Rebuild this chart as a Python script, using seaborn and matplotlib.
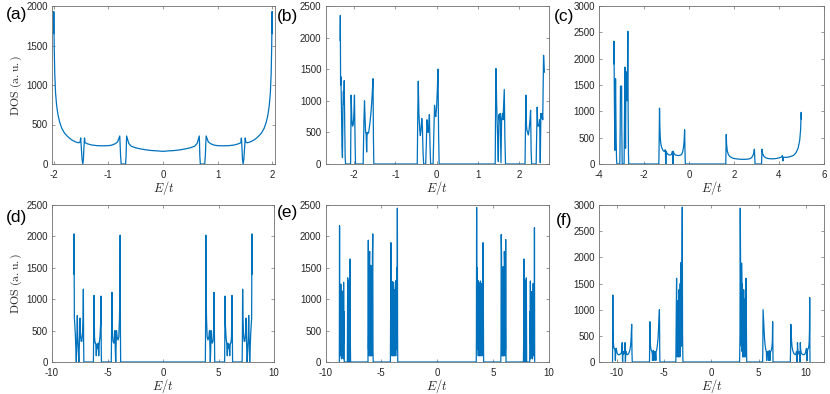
import matplotlib
matplotlib.use("Agg")
import matplotlib.pyplot as plt
import seaborn as sns

# ---------------- data ----------------
e_a = [-2.000, -1.997, -1.990, -1.980, -1.965, -1.945, -1.920, -1.890, -1.850, -1.800,
       -1.740, -1.670, -1.600, -1.540, -1.515, -1.505, -1.495, -1.480, -1.467, -1.455,
       -1.445, -1.435, -1.425, -1.380, -1.300, -1.200, -1.100, -1.000, -0.930, -0.870,
       -0.830, -0.790, -0.775, -0.764, -0.684, -0.675, -0.665, -0.625, -0.580, -0.500,
       -0.400, -0.300, -0.200, -0.100, 0.000,
       0.100, 0.200, 0.300, 0.400, 0.500, 0.580, 0.625, 0.665, 0.675, 0.684,
       0.764, 0.775, 0.790, 0.830, 0.870, 0.930, 1.000, 1.100, 1.200, 1.300,
       1.380, 1.425, 1.435, 1.445, 1.455, 1.467, 1.480, 1.495, 1.505, 1.515,
       1.540, 1.600, 1.670, 1.740, 1.800, 1.850, 1.890, 1.920, 1.945, 1.965,
       1.980, 1.990, 1.997, 2.000]
dos_a = [1650, 1930, 1500, 1150, 900, 740, 620, 530, 450, 390,
         345, 305, 280, 268, 280, 330, 220, 60, 0, 60,
         220, 330, 270, 255, 240, 232, 230, 232, 240, 258,
         280, 355, 100, 0, 0, 100, 355, 260, 225, 205,
         190, 178, 170, 166, 160,
         166, 170, 178, 190, 205, 225, 260, 355, 100, 0,
         0, 100, 355, 280, 258, 240, 232, 230, 232, 240,
         255, 270, 330, 220, 60, 0, 60, 220, 330, 280,
         268, 280, 305, 345, 390, 450, 530, 620, 740, 900,
         1150, 1500, 1930, 1650]

e_b = [-2.345, -2.340, -2.333, -2.325, -2.312, -2.300, -2.288, -2.276, -2.265, -2.255,
       -2.245, -2.232, -2.222, -2.212, -2.090, -2.077, -2.060, -2.045, -2.025, -2.010,
       -1.996, -1.980, -1.970, -1.785, -1.765, -1.752, -1.740, -1.725, -1.712, -1.700,
       -1.688, -1.670, -1.650, -1.620, -1.590, -1.565, -1.545, -1.535, -1.525,
       -0.470, -0.455, -0.445, -0.430, -0.410, -0.395, -0.380, -0.360, -0.345, -0.330,
       -0.315, -0.265, -0.250, -0.235, -0.220, -0.205, -0.190, -0.175, -0.160, -0.145,
       -0.085, -0.070, -0.050, -0.035, -0.020, 0.000, 0.020, 0.035, 0.048, 0.062,
       1.425, 1.435, 1.443, 1.460, 1.480, 1.500, 1.515, 1.530, 1.545, 1.565,
       1.580, 1.600, 1.615, 1.645, 1.660, 1.675,
       2.150, 2.170, 2.185, 2.200, 2.215, 2.230, 2.250, 2.270, 2.285, 2.298, 2.310,
       2.420, 2.445, 2.460, 2.475, 2.490, 2.505, 2.520, 2.535, 2.550, 2.565,
       2.580, 2.600, 2.620]
dos_b = [1950, 2350, 1250, 1380, 900, 300, 100, 900, 1150, 950,
         1320, 600, 100, 0, 0, 1090, 700, 600, 620, 800,
         1090, 300, 0, 0, 700, 1000, 750, 500, 480, 190,
         500, 480, 500, 650, 850, 1100, 1350, 400, 0,
         0, 900, 1310, 800, 550, 450, 530, 720, 600, 200,
         0, 0, 300, 700, 600, 500, 600, 780, 300, 0,
         0, 400, 930, 800, 750, 900, 1200, 1500, 500, 0,
         0, 1000, 1510, 950, 500, 40, 780, 700, 800, 20,
         700, 800, 700, 1180, 400, 0,
         0, 1090, 600, 520, 500, 460, 550, 700, 850, 200, 0,
         0, 900, 600, 620, 600, 700, 20, 800, 720, 800,
         700, 1720, 1450]

e_c = [-3.345, -3.335, -3.325, -3.315, -3.305, -3.295, -3.280, -3.265, -3.250, -3.235,
       -3.220, -3.205, -3.075, -3.060, -3.045, -3.020, -2.995, -2.985, -2.970, -2.885,
       -2.870, -2.850, -2.835, -2.820, -2.805, -2.790, -2.775, -2.760, -2.745, -2.730,
       -2.718, -2.705, -2.690, -2.680,
       -1.340, -1.325, -1.310, -1.295, -1.275, -1.250, -1.220, -1.180, -1.140, -1.100,
       -1.065, -1.050, -1.040, -1.030, -1.020, -1.010, -0.990, -0.950, -0.900, -0.850,
       -0.800, -0.760, -0.735, -0.725, -0.715, -0.705, -0.695, -0.670, -0.620, -0.550,
       -0.480, -0.400, -0.330, -0.280, -0.240, -0.215, -0.195, -0.180, -0.165,
       1.635, 1.645, 1.655, 1.670, 1.700, 1.750, 1.820, 1.900, 2.000, 2.150,
       2.300, 2.450, 2.600, 2.700, 2.780, 2.840, 2.880, 2.905, 2.920, 2.935,
       3.225, 3.235, 3.245, 3.270, 3.320, 3.400, 3.500, 3.650, 3.800, 3.950,
       4.100, 4.150, 4.175, 4.200, 4.350, 4.500, 4.650, 4.750, 4.850, 4.920,
       4.960, 4.985, 4.995]
dos_c = [1900, 2330, 1700, 1200, 700, 260, 800, 1620, 1000, 400,
         100, 0, 0, 600, 1480, 1460, 1480, 600, 0, 0,
         700, 1840, 900, 300, 1300, 1750, 1500, 1700, 1200, 1900,
         2520, 1000, 200, 0,
         0, 500, 1060, 700, 480, 380, 320, 280, 250, 240,
         260, 270, 100, 0, 100, 240, 210, 190, 175, 170,
         175, 200, 240, 100, 0, 100, 240, 200, 175, 165,
         160, 165, 180, 230, 330, 450, 650, 300, 0,
         0, 300, 560, 380, 250, 180, 140, 120, 105, 95,
         90, 88, 92, 100, 120, 160, 210, 280, 150, 0,
         0, 150, 280, 200, 150, 120, 105, 98, 100, 110,
         130, 160, 60, 130, 125, 140, 165, 210, 300, 450,
         650, 980, 850]

e_d = [-8.040, -8.015, -7.985, -7.950, -7.900, -7.850, -7.810, -7.770, -7.720, -7.680,
       -7.630, -7.580, -7.530, -7.480, -7.430, -7.370, -7.310, -7.250, -7.200, -7.175,
       -7.150, -7.130, -6.270, -6.245, -6.215, -6.170, -6.120, -6.060, -6.010, -5.960,
       -5.900, -5.840, -5.790, -5.740, -5.680, -5.620, -5.590, -5.565, -5.550, -4.660,
       -4.630, -4.600, -4.560, -4.500, -4.430, -4.380, -4.330, -4.300, -4.260, -4.220,
       -4.190, -4.130, -4.050, -3.980, -3.920, -3.880, -3.860, -3.835, -3.815,
       3.815, 3.835, 3.860, 3.880, 3.920, 3.980, 4.050, 4.130, 4.190, 4.220,
       4.260, 4.300, 4.330, 4.380, 4.430, 4.500, 4.560, 4.600, 4.630, 4.660,
       5.550, 5.565, 5.590, 5.620, 5.680, 5.740, 5.790, 5.840, 5.900, 5.960,
       6.010, 6.060, 6.120, 6.170, 6.215, 6.245, 6.270, 7.130, 7.150, 7.175,
       7.200, 7.250, 7.310, 7.370, 7.430, 7.480, 7.530, 7.580, 7.630, 7.680,
       7.720, 7.770, 7.810, 7.850, 7.900, 7.950, 7.985, 8.015, 8.040]
dos_d = [1400, 2040, 700, 600, 450, 200, 0, 300, 740, 400,
         200, 0, 300, 700, 450, 330, 330, 450, 700, 1160,
         300, 0, 0, 500, 1060, 400, 300, 300, 100, 280,
         220, 300, 100, 300, 400, 600, 1050, 300, 0, 0,
         500, 1110, 500, 330, 300, 350, 500, 200, 0, 300,
         500, 400, 350, 400, 700, 1200, 2020, 500, 0,
         0, 500, 2020, 1200, 700, 400, 350, 400, 500, 300,
         0, 200, 500, 350, 300, 330, 500, 1110, 500, 0,
         0, 300, 1050, 600, 400, 300, 100, 300, 220, 280,
         100, 300, 300, 400, 1060, 500, 0, 0, 300, 1160,
         700, 450, 330, 330, 450, 700, 300, 0, 200, 400,
         740, 300, 0, 200, 450, 600, 700, 2040, 1400]

e_e = [-8.760, -8.740, -8.725, -8.705, -8.690, -8.670, -8.650, -8.625, -8.605, -8.585,
       -8.565, -8.540, -8.520, -8.500, -8.480, -8.460, -8.440, -8.415, -8.395, -8.375,
       -8.355, -8.335, -8.315,
       -8.040, -8.010, -7.990, -7.970, -7.950, -7.930, -7.910, -7.880, -7.860, -7.835,
       -7.815, -7.790, -7.770, -7.750,
       -6.190, -6.160, -6.140, -6.110, -6.090, -6.060, -6.040, -6.020, -5.990, -5.970,
       -5.940, -5.920, -5.890, -5.870, -5.840, -5.820, -5.790, -5.760, -5.740, -5.720,
       -4.180, -4.130, -4.110, -4.080, -4.060, -4.020, -4.000, -3.960, -3.940, -3.900,
       -3.880, -3.840, -3.820, -3.780, -3.760, -3.720, -3.700, -3.670, -3.640, -3.610,
       -3.580, -3.555, -3.535, -3.520,
       3.520, 3.535, 3.555, 3.580, 3.610, 3.640, 3.670, 3.700, 3.720, 3.760,
       3.780, 3.820, 3.840, 3.880, 3.900, 3.940, 3.960, 4.000, 4.020, 4.060,
       4.080, 4.110, 4.130, 4.180,
       5.720, 5.740, 5.760, 5.790, 5.820, 5.840, 5.870, 5.890, 5.920, 5.940,
       5.970, 5.990, 6.020, 6.040, 6.060, 6.090, 6.110, 6.140, 6.160, 6.190,
       7.750, 7.770, 7.790, 7.815, 7.835, 7.860, 7.880, 7.910, 7.930, 7.950,
       7.970, 7.990, 8.010, 8.040,
       8.315, 8.335, 8.355, 8.375, 8.395, 8.415, 8.440, 8.460, 8.480, 8.500,
       8.520, 8.540, 8.565, 8.585, 8.605, 8.625, 8.650, 8.670, 8.690, 8.705,
       8.725, 8.740, 8.760]
dos_e = [0, 2170, 300, 900, 100, 1000, 200, 1240, 100, 800,
         50, 900, 100, 1130, 80, 900, 100, 1000, 50, 1270,
         300, 800, 0,
         0, 1340, 100, 1300, 0, 900, 100, 1100, 0, 1300,
         200, 1640, 300, 0,
         0, 1940, 200, 1500, 100, 1600, 1760, 100, 1400, 100,
         1540, 100, 1300, 100, 1500, 100, 1700, 2040, 200, 0,
         0, 1900, 300, 1200, 100, 1280, 100, 1100, 100, 1270,
         100, 1100, 100, 1150, 100, 1200, 100, 1300, 200, 1500,
         300, 2450, 400, 0,
         0, 400, 2460, 300, 1500, 200, 1300, 100, 1170, 100,
         1260, 100, 1100, 100, 1290, 100, 1100, 100, 1250, 100,
         1200, 300, 1900, 0,
         0, 200, 2030, 1700, 100, 1500, 100, 1300, 100, 1520,
         100, 1400, 100, 1760, 1600, 100, 1500, 200, 1950, 0,
         0, 300, 1640, 200, 1300, 0, 1100, 100, 900, 0,
         1300, 100, 1340, 0,
         0, 800, 300, 1290, 50, 1000, 100, 900, 80, 1120,
         100, 900, 50, 800, 100, 1250, 200, 1000, 100, 900,
         300, 2140, 0]

e_f = [-10.420, -10.405, -10.390, -10.370, -10.340, -10.300, -10.250, -10.200, -10.150, -10.120,
       -10.090, -10.050, -10.000, -9.950, -9.880, -9.800, -9.700, -9.600, -9.500, -9.430,
       -9.400, -9.380, -9.360, -9.340, -9.320, -9.260, -9.200, -9.130, -9.100, -9.080,
       -9.060, -9.040, -9.000, -8.920, -8.850, -8.780, -8.700, -8.600, -8.520, -8.460,
       -8.400, -8.370, -8.340,
       -6.520, -6.500, -6.480, -6.450, -6.400, -6.330, -6.270, -6.220, -6.200, -6.180,
       -6.130, -6.080, -6.050, -6.020, -5.960, -5.900, -5.850, -5.820, -5.760, -5.700,
       -5.620, -5.560, -5.470, -5.440, -5.420,
       -3.740, -3.700, -3.660, -3.640, -3.610, -3.590, -3.550, -3.520, -3.500, -3.470,
       -3.450, -3.420, -3.400, -3.360, -3.330, -3.310, -3.280, -3.260, -3.220, -3.200,
       -3.180, -3.140, -3.120, -3.090, -3.060, -3.030, -2.990,
       2.990, 3.030, 3.060, 3.090, 3.120, 3.140, 3.180, 3.200, 3.220, 3.260,
       3.280, 3.310, 3.330, 3.360, 3.400, 3.420, 3.450, 3.470, 3.500, 3.520,
       3.550, 3.590, 3.610, 3.640, 3.660, 3.700, 3.740,
       5.420, 5.440, 5.470, 5.560, 5.620, 5.700, 5.760, 5.820, 5.850, 5.900,
       5.960, 6.020, 6.050, 6.080, 6.130, 6.180, 6.200, 6.220, 6.270, 6.330,
       6.400, 6.450, 6.480, 6.500, 6.520,
       8.340, 8.370, 8.400, 8.460, 8.520, 8.600, 8.700, 8.780, 8.850, 8.920,
       9.000, 9.040, 9.060, 9.080, 9.100, 9.130, 9.200, 9.260, 9.320, 9.340,
       9.360, 9.380, 9.400, 9.430, 9.500, 9.600, 9.700, 9.800, 9.880, 9.950,
       10.000, 10.050, 10.090, 10.120, 10.150, 10.200, 10.250, 10.300, 10.340, 10.370,
       10.390, 10.405, 10.420]
dos_f = [0, 600, 1280, 600, 400, 300, 260, 250, 200, 30,
         200, 260, 230, 180, 150, 140, 140, 150, 170, 250,
         370, 100, 0, 100, 200, 150, 160, 250, 370, 100,
         0, 100, 200, 150, 140, 150, 170, 220, 300, 450,
         720, 200, 0,
         0, 400, 770, 400, 280, 220, 200, 150, 30, 150,
         220, 180, 30, 180, 200, 170, 30, 200, 230, 300,
         450, 650, 1000, 200, 0,
         0, 800, 1600, 200, 900, 100, 1000, 1170, 100, 1100,
         100, 1380, 100, 1200, 1370, 100, 1500, 200, 1600, 1900,
         300, 1800, 400, 2000, 2960, 500, 0,
         0, 500, 2940, 2000, 400, 1800, 300, 1890, 1600, 200,
         1500, 100, 1370, 1200, 100, 1380, 100, 1100, 100, 1200,
         1000, 100, 900, 200, 1600, 800, 0,
         0, 200, 1000, 650, 450, 300, 230, 200, 30, 170,
         200, 180, 30, 180, 220, 150, 30, 150, 200, 220,
         280, 400, 770, 400, 0,
         0, 200, 720, 450, 300, 220, 170, 150, 140, 150,
         200, 100, 0, 100, 370, 250, 160, 150, 200, 100,
         0, 100, 370, 250, 170, 150, 140, 140, 150, 180,
         230, 260, 200, 30, 200, 250, 260, 300, 400, 600,
         1230, 600, 0]

panel_labels = ["(a)", "(b)", "(c)", "(d)", "(e)", "(f)"]
xlims = [(-2.03, 2.05), (-2.7, 2.72), (-4, 6), (-10, 10), (-10, 10), (-11.85, 11.9)]
xticks = [[-2, -1, 0, 1, 2], [-2, -1, 0, 1, 2], [-4, -2, 0, 2, 4, 6],
          [-10, -5, 0, 5, 10], [-10, -5, 0, 5, 10], [-10, -5, 0, 5, 10]]
ymax = [2000, 2500, 3000, 2500, 2500, 3000]
yticks = [[0, 500, 1000, 1500, 2000], [0, 500, 1000, 1500, 2000, 2500],
          [0, 500, 1000, 1500, 2000, 2500, 3000], [0, 500, 1000, 1500, 2000, 2500],
          [0, 500, 1000, 1500, 2000, 2500], [0, 500, 1000, 1500, 2000, 2500, 3000]]

# ---------------- style ----------------
sns.set_theme(style="white")
plt.rcParams["font.family"] = ["Liberation Sans", "DejaVu Sans"]
plt.rcParams["mathtext.fontset"] = "cm"

W, H = 830, 394
fig = plt.figure(figsize=(W / 100, H / 100), dpi=100)

# axes boxes in pixels: (left, top, right, bottom)
boxes = [(52, 6, 275, 164), (325.5, 6, 548.5, 164), (599, 6, 824, 164),
         (52, 205, 274, 362), (325.5, 205, 548.5, 362), (599, 205, 824, 362)]
label_pos = [(6, 14), (277, 16), (554, 17), (6, 217), (277, 213), (556, 220)]

series = [(e_a, dos_a), (e_b, dos_b), (e_c, dos_c), (e_d, dos_d), (e_e, dos_e), (e_f, dos_f)]
line_color = "#0072BD"
axis_color = "#6e6e6e"
text_color = "#262626"

for i, ((x, y), (l, t, r, b)) in enumerate(zip(series, boxes)):
    ax = fig.add_axes([l / W, 1 - b / H, (r - l) / W, (b - t) / H])
    sns.lineplot(x=x, y=y, ax=ax, color=line_color, linewidth=0.9,
                 sort=False, estimator=None, legend=False)
    ax.set_xlim(*xlims[i])
    ax.set_ylim(0, ymax[i])
    ax.set_xticks(xticks[i])
    ax.set_yticks(yticks[i])
    ax.set_xticklabels([str(v) for v in xticks[i]])
    ax.set_yticklabels([str(v) for v in yticks[i]])
    ax.tick_params(direction="in", length=2.5, width=0.5, colors=axis_color,
                   labelcolor=text_color, labelsize=7,
                   top=True, right=True, bottom=True, left=True)
    ax.tick_params(axis="x", pad=4.5)
    ax.tick_params(axis="y", pad=3)
    for s in ax.spines.values():
        s.set_color(axis_color)
        s.set_linewidth(0.6)
        s.set_visible(True)
    ax.set_xlabel(r"$E/t$", fontsize=9, color=text_color, labelpad=-1)
    if i in (0, 3):
        ax.set_ylabel(r"$\mathrm{DOS\ (a.u.)}$", fontsize=8.5, color=text_color, labelpad=2)
    else:
        ax.set_ylabel("")
    ax.grid(False)
    fig.text(label_pos[i][0] / W, 1 - label_pos[i][1] / H, panel_labels[i],
             fontsize=12.5, ha="left", va="center", color="black")

fig.savefig("out.png", dpi=100)
